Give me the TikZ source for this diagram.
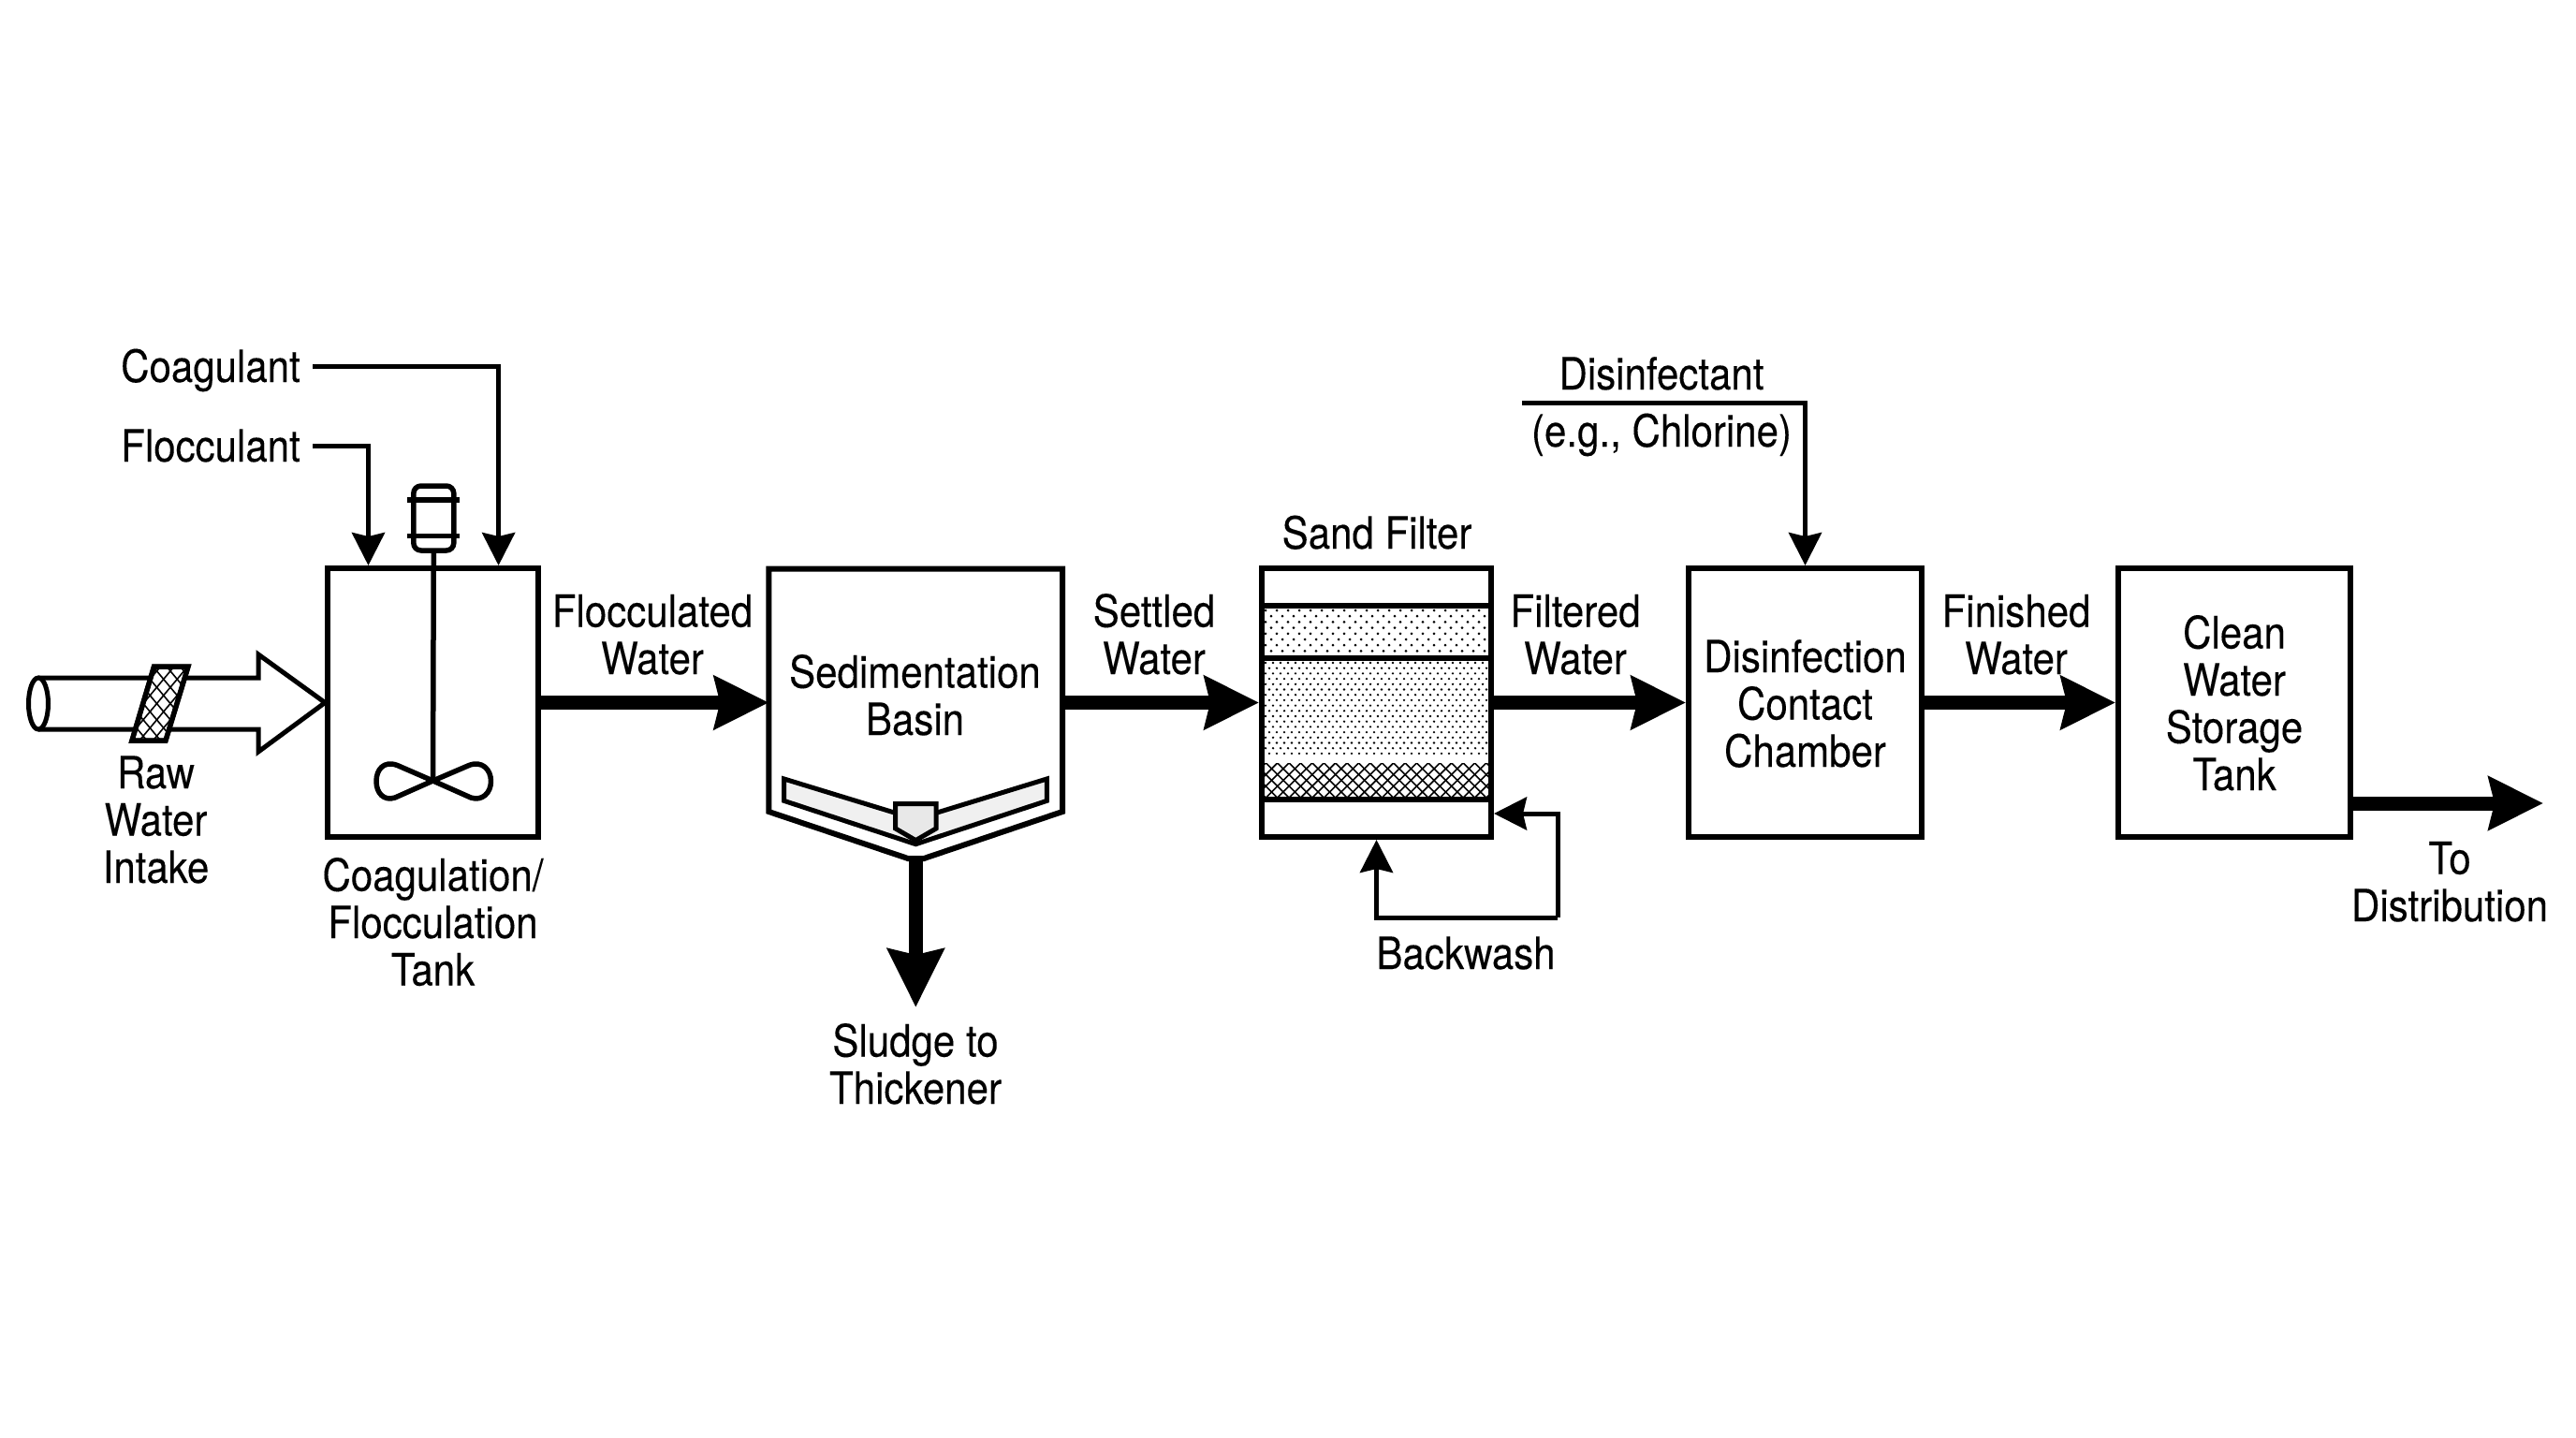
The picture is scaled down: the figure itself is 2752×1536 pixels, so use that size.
\documentclass[tikz,border=0pt]{standalone}
\usepackage{fontspec}
\setmainfont{TeX Gyre Heros}[FakeStretch=0.885,FakeBold=0.12]
\usetikzlibrary{arrows.meta}
\tikzset{
  every node/.style={inner sep=0pt},
  lbl/.style={font=\fontsize{47.5}{50.5}\selectfont,align=center,anchor=base},
  unit/.style={draw=black,line width=6pt,fill=white,minimum height=287pt},
  feed/.style={draw=black,line width=5pt,-{Stealth[length=35pt,width=35pt,inset=4pt]}},
  main/.style={draw=black,line width=15pt,-{Stealth[length=58pt,width=56pt,inset=6pt]}},
}
\begin{document}
\begin{tikzpicture}[x=1pt,y=-1pt]
\useasboundingbox[fill=white] (0,0) rectangle (2752,1536);

% ---- units
\node[unit,minimum width=225pt] (tank) at (462.75,750.5) {};
\node[unit,minimum width=245pt] (filter) at (1470.5,750.5) {};
\node[unit,minimum width=249pt] (chamber) at (1928.5,750.5) {};
\node[unit,minimum width=248pt] (storage) at (2387,750.5) {};

% ---- basin
\coordinate (basinW) at (821.3,750.5);
\coordinate (basinE) at (1135,750.5);
\coordinate (basinS) at (978.3,917);
\draw[black,line width=6pt,fill=white,line join=miter]
  (821.3,607.5) -- (1135,607.5) -- (1135,867) -- (987,917) -- (970,917) -- (821.3,867) -- cycle;
\draw[black,line width=5pt,fill=black!6,line join=miter]
  (837.7,832) -- (978.3,875) -- (1118.3,832) -- (1118.3,855.4) -- (978.3,901.7) -- (837.7,855.4) -- cycle;
\draw[black,line width=5pt,fill=black!9,line join=miter]
  (956.7,858.7) -- (1000,858.7) -- (1000,885) -- (978.3,897.6) -- (956.7,885) -- cycle;

% ---- mixer
\coordinate (mixhub) at (462.5,834);
\node[draw=black,line width=5.5pt,rounded corners=8pt,fill=white,minimum width=43pt,minimum height=69pt] (motor) at (463.3,553.5) {};
\draw[black,line width=5.5pt] (435,534) -- (491,534) (435,572.7) -- (491,572.7);
\draw[black,line width=5.5pt] (motor.south) -- (mixhub);
\draw[black,line width=5.5pt,line join=round]
  (mixhub) -- (424.5,817.5) .. controls (410,812) and (402,822) .. (402,834.5)
  .. controls (402,847) and (410,856) .. (422,852) -- (mixhub)
  -- (501,817.5) .. controls (515,812) and (524.5,822) .. (524.5,834.5)
  .. controls (524.5,847) and (515,856) .. (503,852) -- cycle;

% ---- filter layers
\begin{scope}
  \clip (1350.7,650) rectangle (1590.5,700);
  \foreach \j in {0,...,8} \foreach \i in {0,...,21}
    \fill[black] ({1352+\i*12+mod(\j,2)*6},{652+\j*6.2}) circle (1.5pt);
\end{scope}
\begin{scope}
  \clip (1350.7,705) rectangle (1590.5,808.5);
  \foreach \j in {0,...,18} \foreach \i in {0,...,31}
    \fill[black] ({1352+\i*8+mod(\j,2)*4},{708+\j*5.7}) circle (1.3pt);
\end{scope}
\begin{scope}
  \clip (1350.7,815) rectangle (1590.5,852);
  \foreach \i in {-4,...,24} {
    \draw[black,line width=1.6pt] ({1340+\i*12.4},815) -- ({1340+\i*12.4+37},852);
    \draw[black,line width=1.6pt] ({1340+\i*12.4+37},815) -- ({1340+\i*12.4},852);
  }
\end{scope}
\draw[black,line width=6pt] (filter.west |- 0,647.3) -- (filter.east |- 0,647.3);
\draw[black,line width=6pt] (filter.west |- 0,702.7) -- (filter.east |- 0,702.7);
\draw[black,line width=6pt] (filter.west |- 0,854) -- (filter.east |- 0,854);
\node[draw=black,line width=6pt,minimum width=245pt,minimum height=287pt] (filterframe) at (filter.center) {};

% ---- raw water pipe
\coordinate (pipeend) at (41,751.5);
\draw[black,line width=5pt,fill=white,line join=miter]
  (41,724) -- (276,724) -- (276,699) -- (tank.west) -- (276,803) -- (276,779) -- (41,779);
\draw[black,line width=5pt,fill=white] (pipeend) ellipse (10.5pt and 27.5pt);
\draw[black,line width=5pt,fill=white,line join=miter]
  (164.5,712) -- (201,712) -- (177,791) -- (141,791) -- cycle;
\begin{scope}
  \clip (164.5,712) -- (201,712) -- (177,791) -- (141,791) -- cycle;
  \foreach \i in {-6,...,8} {
    \draw[black,line width=1.6pt] ({120+\i*14.5},712) -- ({120+\i*14.5+66},791);
    \draw[black,line width=1.6pt] ({120+\i*14.5+66},712) -- ({120+\i*14.5},791);
  }
\end{scope}
\draw[black,line width=5.5pt,line join=miter]
  (164.5,712) -- (201,712) -- (177,791) -- (141,791) -- cycle;

% ---- chemical feeds
\coordinate (coagstart) at (334,391);
\coordinate (flocstart) at (334,476);
\coordinate (disstart) at (1626,430);
\coordinate (coagin) at (532.6,607);
\coordinate (flocin) at (393.5,607);
\draw[feed] (coagstart) -| (coagin |- tank.north);
\draw[feed] (flocstart) -| (flocin |- tank.north);
\draw[feed] (disstart) -| (chamber.north);

% ---- backwash
\coordinate (bwright) at (filter.east |- 0,869);
\coordinate (bwcorner) at (1664.3,980);
\draw[feed] (bwcorner) -- (1664.3,869) -- (bwright);
\draw[feed] (bwcorner) -- (filter.south |- bwcorner) -- (filter.south);

% ---- main flow
\draw[main] (tank.east) -- (basinW);
\draw[main] (basinE) -- (filter.west);
\draw[main] (filter.east) -- (chamber.west);
\draw[main] (chamber.east) -- (storage.west);
\coordinate (distend) at (2717,858);
\draw[main] (storage.east |- distend) -- (distend);
\coordinate (sludgeend) at (978.3,1076);
\draw[main,-{Stealth[length=62pt,width=59pt,inset=6pt]}] (basinS) -- (sludgeend);

% ---- labels (y = baseline of the last line)
\node[lbl,anchor=base east] (coag) at (321,408) {Coagulant};
\node[lbl,anchor=base east] (floc) at (321,493) {Flocculant};
\node[lbl] (raw) at (166.5,943) {Raw\\Water\\Intake};
\node[lbl] (coagt) at (462.5,1052.5) {Coagulation/\\Flocculation\\Tank};
\node[lbl] (flw) at (697,720) {Flocculated\\Water};
\node[lbl] (sedb) at (977.5,785) {Sedimentation\\Basin};
\node[lbl] (slu) at (978,1179) {Sludge to\\Thickener};
\node[lbl] (stw) at (1233,720) {Settled\\Water};
\node[lbl] (sand) at (1471,586) {Sand Filter};
\node[lbl] (bw) at (1566,1035) {Backwash};
\node[lbl] (fw) at (1683,720) {Filtered\\Water};
\node[lbl] (dis) at (1775,416) {Disinfectant};
\node[lbl] (chl) at (1775,477) {(e.g., Chlorine)};
\node[lbl] (dcc) at (1928.5,819) {Disinfection\\Contact\\Chamber};
\node[lbl] (fin) at (2154,720) {Finished\\Water};
\node[lbl] (cws) at (2387,844) {Clean\\Water\\Storage\\Tank};
\node[lbl] (dist) at (2617,984) {To\\Distribution};
\end{tikzpicture}
\end{document}
